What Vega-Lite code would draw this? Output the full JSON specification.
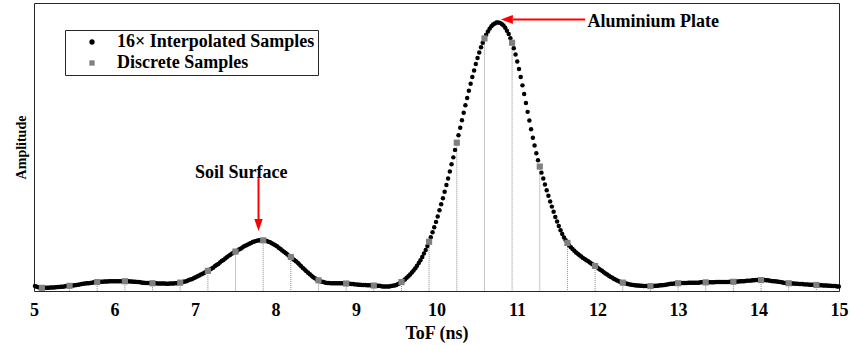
{
  "$schema": "https://vega.github.io/schema/vega-lite/v6.json",
  "width": 805,
  "height": 288,
  "autosize": {"type": "none"},
  "padding": {"left": 34, "top": 3, "right": 12, "bottom": 54},
  "datasets": {
    "interp": [
      {"t":5.012,"a":0.017},{"t":5.034,"a":0.015},{"t":5.055,"a":0.013},{"t":5.077,"a":0.012},
      {"t":5.098,"a":0.011},{"t":5.119,"a":0.011},{"t":5.141,"a":0.011},{"t":5.162,"a":0.011},{"t":5.184,"a":0.011},{"t":5.205,"a":0.012},{"t":5.227,"a":0.012},{"t":5.248,"a":0.012},{"t":5.270,"a":0.013},{"t":5.291,"a":0.014},{"t":5.313,"a":0.014},{"t":5.334,"a":0.015},{"t":5.356,"a":0.015},{"t":5.377,"a":0.016},{"t":5.399,"a":0.017},{"t":5.420,"a":0.017},
      {"t":5.442,"a":0.018},{"t":5.463,"a":0.019},{"t":5.485,"a":0.019},{"t":5.506,"a":0.020},{"t":5.528,"a":0.021},{"t":5.549,"a":0.022},{"t":5.571,"a":0.023},{"t":5.592,"a":0.024},{"t":5.614,"a":0.025},{"t":5.635,"a":0.026},{"t":5.657,"a":0.027},{"t":5.678,"a":0.027},{"t":5.700,"a":0.028},{"t":5.721,"a":0.029},{"t":5.743,"a":0.030},{"t":5.764,"a":0.030},
      {"t":5.785,"a":0.031},{"t":5.806,"a":0.031},{"t":5.828,"a":0.032},{"t":5.849,"a":0.032},{"t":5.871,"a":0.033},{"t":5.892,"a":0.033},{"t":5.914,"a":0.033},{"t":5.935,"a":0.034},{"t":5.957,"a":0.034},{"t":5.978,"a":0.034},{"t":6.000,"a":0.034},{"t":6.021,"a":0.034},{"t":6.043,"a":0.034},{"t":6.064,"a":0.034},{"t":6.086,"a":0.034},{"t":6.107,"a":0.034},
      {"t":6.129,"a":0.034},{"t":6.150,"a":0.034},{"t":6.172,"a":0.034},{"t":6.193,"a":0.033},{"t":6.215,"a":0.033},{"t":6.236,"a":0.032},{"t":6.258,"a":0.032},{"t":6.279,"a":0.031},{"t":6.301,"a":0.031},{"t":6.322,"a":0.030},{"t":6.344,"a":0.029},{"t":6.365,"a":0.029},{"t":6.387,"a":0.028},{"t":6.408,"a":0.028},{"t":6.430,"a":0.028},{"t":6.451,"a":0.027},
      {"t":6.472,"a":0.027},{"t":6.493,"a":0.027},{"t":6.515,"a":0.027},{"t":6.536,"a":0.026},{"t":6.558,"a":0.026},{"t":6.579,"a":0.026},{"t":6.601,"a":0.026},{"t":6.622,"a":0.026},{"t":6.644,"a":0.025},{"t":6.665,"a":0.025},{"t":6.687,"a":0.026},{"t":6.708,"a":0.026},{"t":6.730,"a":0.026},{"t":6.751,"a":0.027},{"t":6.773,"a":0.027},{"t":6.794,"a":0.028},
      {"t":6.816,"a":0.029},{"t":6.837,"a":0.030},{"t":6.859,"a":0.032},{"t":6.880,"a":0.033},{"t":6.902,"a":0.035},{"t":6.923,"a":0.038},{"t":6.945,"a":0.040},{"t":6.966,"a":0.042},{"t":6.988,"a":0.045},{"t":7.009,"a":0.048},{"t":7.031,"a":0.051},{"t":7.052,"a":0.054},{"t":7.074,"a":0.057},{"t":7.095,"a":0.060},{"t":7.117,"a":0.063},{"t":7.138,"a":0.067},
      {"t":7.160,"a":0.070},{"t":7.181,"a":0.074},{"t":7.203,"a":0.077},{"t":7.224,"a":0.081},{"t":7.246,"a":0.086},{"t":7.267,"a":0.090},{"t":7.289,"a":0.094},{"t":7.310,"a":0.099},{"t":7.332,"a":0.104},{"t":7.353,"a":0.108},{"t":7.375,"a":0.113},{"t":7.396,"a":0.117},{"t":7.418,"a":0.122},{"t":7.439,"a":0.126},{"t":7.461,"a":0.130},{"t":7.482,"a":0.134},
      {"t":7.503,"a":0.137},{"t":7.524,"a":0.140},{"t":7.546,"a":0.144},{"t":7.567,"a":0.147},{"t":7.589,"a":0.151},{"t":7.610,"a":0.155},{"t":7.632,"a":0.158},{"t":7.653,"a":0.161},{"t":7.675,"a":0.164},{"t":7.696,"a":0.167},{"t":7.718,"a":0.170},{"t":7.739,"a":0.172},{"t":7.761,"a":0.174},{"t":7.782,"a":0.175},{"t":7.804,"a":0.176},{"t":7.825,"a":0.176},
      {"t":7.847,"a":0.176},{"t":7.868,"a":0.175},{"t":7.890,"a":0.174},{"t":7.911,"a":0.171},{"t":7.933,"a":0.169},{"t":7.954,"a":0.166},{"t":7.976,"a":0.162},{"t":7.997,"a":0.159},{"t":8.019,"a":0.155},{"t":8.040,"a":0.150},{"t":8.062,"a":0.146},{"t":8.083,"a":0.141},{"t":8.105,"a":0.136},{"t":8.126,"a":0.132},{"t":8.148,"a":0.127},{"t":8.169,"a":0.122},
      {"t":8.190,"a":0.118},{"t":8.211,"a":0.113},{"t":8.233,"a":0.108},{"t":8.254,"a":0.103},{"t":8.276,"a":0.098},{"t":8.297,"a":0.092},{"t":8.319,"a":0.086},{"t":8.340,"a":0.080},{"t":8.362,"a":0.075},{"t":8.383,"a":0.069},{"t":8.405,"a":0.063},{"t":8.426,"a":0.058},{"t":8.448,"a":0.053},{"t":8.469,"a":0.048},{"t":8.491,"a":0.044},{"t":8.512,"a":0.040},
      {"t":8.534,"a":0.037},{"t":8.555,"a":0.034},{"t":8.577,"a":0.032},{"t":8.598,"a":0.031},{"t":8.620,"a":0.029},{"t":8.641,"a":0.028},{"t":8.663,"a":0.028},{"t":8.684,"a":0.027},{"t":8.706,"a":0.027},{"t":8.727,"a":0.027},{"t":8.749,"a":0.027},{"t":8.770,"a":0.027},{"t":8.792,"a":0.027},{"t":8.813,"a":0.027},{"t":8.835,"a":0.027},{"t":8.856,"a":0.026},
      {"t":8.878,"a":0.026},{"t":8.899,"a":0.025},{"t":8.921,"a":0.025},{"t":8.942,"a":0.024},{"t":8.964,"a":0.024},{"t":8.985,"a":0.023},{"t":9.007,"a":0.023},{"t":9.028,"a":0.022},{"t":9.050,"a":0.022},{"t":9.071,"a":0.021},{"t":9.093,"a":0.021},{"t":9.114,"a":0.021},{"t":9.136,"a":0.020},{"t":9.157,"a":0.020},{"t":9.179,"a":0.020},{"t":9.200,"a":0.019},
      {"t":9.221,"a":0.019},{"t":9.242,"a":0.019},{"t":9.264,"a":0.018},{"t":9.285,"a":0.018},{"t":9.307,"a":0.017},{"t":9.328,"a":0.016},{"t":9.350,"a":0.016},{"t":9.371,"a":0.016},{"t":9.393,"a":0.016},{"t":9.414,"a":0.016},{"t":9.436,"a":0.017},{"t":9.457,"a":0.018},{"t":9.479,"a":0.019},{"t":9.500,"a":0.021},{"t":9.522,"a":0.024},{"t":9.543,"a":0.027},
      {"t":9.565,"a":0.031},{"t":9.586,"a":0.036},{"t":9.608,"a":0.040},{"t":9.629,"a":0.046},{"t":9.651,"a":0.051},{"t":9.672,"a":0.057},{"t":9.694,"a":0.064},{"t":9.715,"a":0.071},{"t":9.737,"a":0.079},{"t":9.758,"a":0.088},{"t":9.780,"a":0.097},{"t":9.801,"a":0.107},{"t":9.823,"a":0.118},{"t":9.844,"a":0.130},{"t":9.866,"a":0.142},{"t":9.887,"a":0.156},
      {"t":9.908,"a":0.171},{"t":9.929,"a":0.187},{"t":9.951,"a":0.204},{"t":9.972,"a":0.221},{"t":9.994,"a":0.240},{"t":10.015,"a":0.259},{"t":10.037,"a":0.280},{"t":10.058,"a":0.301},{"t":10.080,"a":0.322},{"t":10.101,"a":0.345},{"t":10.123,"a":0.368},{"t":10.144,"a":0.391},{"t":10.166,"a":0.415},{"t":10.187,"a":0.440},{"t":10.209,"a":0.464},{"t":10.230,"a":0.490},
      {"t":10.252,"a":0.515},{"t":10.273,"a":0.541},{"t":10.295,"a":0.567},{"t":10.316,"a":0.593},{"t":10.338,"a":0.619},{"t":10.359,"a":0.645},{"t":10.381,"a":0.670},{"t":10.402,"a":0.695},{"t":10.424,"a":0.720},{"t":10.445,"a":0.743},{"t":10.467,"a":0.766},{"t":10.488,"a":0.788},{"t":10.510,"a":0.809},{"t":10.531,"a":0.828},{"t":10.553,"a":0.846},{"t":10.574,"a":0.862},
      {"t":10.596,"a":0.877},{"t":10.617,"a":0.890},{"t":10.639,"a":0.901},{"t":10.660,"a":0.911},{"t":10.682,"a":0.919},{"t":10.703,"a":0.925},{"t":10.725,"a":0.929},{"t":10.746,"a":0.932},{"t":10.768,"a":0.932},{"t":10.789,"a":0.931},{"t":10.811,"a":0.927},{"t":10.832,"a":0.922},{"t":10.854,"a":0.914},{"t":10.875,"a":0.904},{"t":10.897,"a":0.892},{"t":10.918,"a":0.878},
      {"t":10.939,"a":0.862},{"t":10.960,"a":0.843},{"t":10.982,"a":0.821},{"t":11.003,"a":0.797},{"t":11.025,"a":0.771},{"t":11.046,"a":0.743},{"t":11.068,"a":0.714},{"t":11.089,"a":0.684},{"t":11.111,"a":0.653},{"t":11.132,"a":0.622},{"t":11.154,"a":0.592},{"t":11.175,"a":0.562},{"t":11.197,"a":0.532},{"t":11.218,"a":0.505},{"t":11.240,"a":0.478},{"t":11.261,"a":0.454},
      {"t":11.283,"a":0.432},{"t":11.304,"a":0.411},{"t":11.326,"a":0.391},{"t":11.347,"a":0.370},{"t":11.369,"a":0.350},{"t":11.390,"a":0.331},{"t":11.412,"a":0.311},{"t":11.433,"a":0.293},{"t":11.455,"a":0.275},{"t":11.476,"a":0.257},{"t":11.498,"a":0.241},{"t":11.519,"a":0.226},{"t":11.541,"a":0.211},{"t":11.562,"a":0.198},{"t":11.584,"a":0.186},{"t":11.605,"a":0.176},
      {"t":11.626,"a":0.167},{"t":11.647,"a":0.159},{"t":11.669,"a":0.152},{"t":11.690,"a":0.146},{"t":11.712,"a":0.140},{"t":11.733,"a":0.134},{"t":11.755,"a":0.129},{"t":11.776,"a":0.124},{"t":11.798,"a":0.120},{"t":11.819,"a":0.115},{"t":11.841,"a":0.111},{"t":11.862,"a":0.107},{"t":11.884,"a":0.103},{"t":11.905,"a":0.099},{"t":11.927,"a":0.095},{"t":11.948,"a":0.091},
      {"t":11.970,"a":0.087},{"t":11.991,"a":0.083},{"t":12.013,"a":0.078},{"t":12.034,"a":0.074},{"t":12.056,"a":0.070},{"t":12.077,"a":0.065},{"t":12.099,"a":0.061},{"t":12.120,"a":0.057},{"t":12.142,"a":0.053},{"t":12.163,"a":0.049},{"t":12.185,"a":0.046},{"t":12.206,"a":0.042},{"t":12.228,"a":0.039},{"t":12.249,"a":0.036},{"t":12.271,"a":0.033},{"t":12.292,"a":0.031},
      {"t":12.314,"a":0.029},{"t":12.335,"a":0.027},{"t":12.357,"a":0.026},{"t":12.378,"a":0.024},{"t":12.400,"a":0.023},{"t":12.421,"a":0.022},{"t":12.443,"a":0.021},{"t":12.464,"a":0.020},{"t":12.486,"a":0.019},{"t":12.507,"a":0.019},{"t":12.529,"a":0.018},{"t":12.550,"a":0.018},{"t":12.572,"a":0.017},{"t":12.593,"a":0.017},{"t":12.615,"a":0.017},{"t":12.636,"a":0.017},
      {"t":12.657,"a":0.017},{"t":12.678,"a":0.017},{"t":12.700,"a":0.017},{"t":12.721,"a":0.018},{"t":12.743,"a":0.018},{"t":12.764,"a":0.019},{"t":12.786,"a":0.020},{"t":12.807,"a":0.020},{"t":12.829,"a":0.021},{"t":12.850,"a":0.022},{"t":12.872,"a":0.023},{"t":12.893,"a":0.024},{"t":12.915,"a":0.025},{"t":12.936,"a":0.025},{"t":12.958,"a":0.026},{"t":12.979,"a":0.027},
      {"t":13.001,"a":0.027},{"t":13.022,"a":0.027},{"t":13.044,"a":0.028},{"t":13.065,"a":0.028},{"t":13.087,"a":0.028},{"t":13.108,"a":0.028},{"t":13.130,"a":0.029},{"t":13.151,"a":0.029},{"t":13.173,"a":0.029},{"t":13.194,"a":0.029},{"t":13.216,"a":0.029},{"t":13.237,"a":0.029},{"t":13.259,"a":0.029},{"t":13.280,"a":0.030},{"t":13.302,"a":0.030},{"t":13.323,"a":0.030},
      {"t":13.344,"a":0.030},{"t":13.365,"a":0.030},{"t":13.387,"a":0.030},{"t":13.408,"a":0.030},{"t":13.430,"a":0.030},{"t":13.451,"a":0.030},{"t":13.473,"a":0.031},{"t":13.494,"a":0.031},{"t":13.516,"a":0.031},{"t":13.537,"a":0.031},{"t":13.559,"a":0.031},{"t":13.580,"a":0.031},{"t":13.602,"a":0.031},{"t":13.623,"a":0.031},{"t":13.645,"a":0.032},{"t":13.666,"a":0.032},
      {"t":13.688,"a":0.032},{"t":13.709,"a":0.032},{"t":13.731,"a":0.033},{"t":13.752,"a":0.033},{"t":13.774,"a":0.034},{"t":13.795,"a":0.034},{"t":13.817,"a":0.034},{"t":13.838,"a":0.035},{"t":13.860,"a":0.036},{"t":13.881,"a":0.036},{"t":13.903,"a":0.036},{"t":13.924,"a":0.037},{"t":13.946,"a":0.037},{"t":13.967,"a":0.038},{"t":13.989,"a":0.038},{"t":14.010,"a":0.038},
      {"t":14.032,"a":0.038},{"t":14.053,"a":0.038},{"t":14.075,"a":0.038},{"t":14.096,"a":0.037},{"t":14.118,"a":0.037},{"t":14.139,"a":0.036},{"t":14.161,"a":0.035},{"t":14.182,"a":0.034},{"t":14.204,"a":0.034},{"t":14.225,"a":0.033},{"t":14.247,"a":0.032},{"t":14.268,"a":0.031},{"t":14.290,"a":0.030},{"t":14.311,"a":0.029},{"t":14.333,"a":0.028},{"t":14.354,"a":0.028},
      {"t":14.375,"a":0.027},{"t":14.396,"a":0.026},{"t":14.418,"a":0.026},{"t":14.439,"a":0.026},{"t":14.461,"a":0.025},{"t":14.482,"a":0.025},{"t":14.504,"a":0.024},{"t":14.525,"a":0.024},{"t":14.547,"a":0.024},{"t":14.568,"a":0.023},{"t":14.590,"a":0.023},{"t":14.611,"a":0.023},{"t":14.633,"a":0.022},{"t":14.654,"a":0.022},{"t":14.676,"a":0.022},{"t":14.697,"a":0.021},
      {"t":14.719,"a":0.021},{"t":14.740,"a":0.021},{"t":14.762,"a":0.020},{"t":14.783,"a":0.020},{"t":14.805,"a":0.019},{"t":14.826,"a":0.019},{"t":14.848,"a":0.019},{"t":14.869,"a":0.018},{"t":14.891,"a":0.018},{"t":14.912,"a":0.017},{"t":14.934,"a":0.017},{"t":14.955,"a":0.017},{"t":14.977,"a":0.016},{"t":14.998,"a":0.016}
    ],
    "disc": [
      {"t":5.098,"a":0.011},{"t":5.442,"a":0.018},{"t":5.785,"a":0.031},{"t":6.129,"a":0.034},{"t":6.472,"a":0.027},{"t":6.816,"a":0.029},{"t":7.160,"a":0.070},{"t":7.503,"a":0.137},{"t":7.847,"a":0.176},{"t":8.190,"a":0.118},{"t":8.534,"a":0.037},{"t":8.878,"a":0.026},{"t":9.221,"a":0.019},{"t":9.565,"a":0.031},{"t":9.908,"a":0.171},{"t":10.252,"a":0.515},{"t":10.596,"a":0.877},{"t":10.939,"a":0.862},{"t":11.283,"a":0.432},{"t":11.626,"a":0.167},{"t":11.970,"a":0.087},{"t":12.314,"a":0.029},{"t":12.657,"a":0.017},{"t":13.001,"a":0.027},{"t":13.344,"a":0.030},{"t":13.688,"a":0.032},{"t":14.032,"a":0.038},{"t":14.375,"a":0.027},{"t":14.719,"a":0.021}
    ],
    "ticks": [
      {"t":5},{"t":6},{"t":7},{"t":8},{"t":9},{"t":10},{"t":11},{"t":12},{"t":13},{"t":14},{"t":15}
    ]
  },
  "encoding": {
    "x": {"field": "t", "type": "quantitative", "scale": {"domain": [5, 15], "nice": false, "zero": false}, "axis": null},
    "y": {"field": "a", "type": "quantitative", "scale": {"domain": [0, 1], "nice": false},
          "axis": {"orient": "left", "title": "Amplitude", "labels": false, "ticks": false, "domain": false, "titlePadding": 6, "titleFontSize": 14}}
  },
  "layer": [
    {
      "data": {"name": "ticks"},
      "mark": {"type": "rule", "color": "#262626", "strokeWidth": 1},
      "encoding": {
        "y": {"datum": 0},
        "y2": {"datum": 0.024}
      }
    },
    {
      "data": {"name": "ticks"},
      "mark": {"type": "rule", "color": "#262626", "strokeWidth": 1},
      "encoding": {
        "y": {"datum": 1},
        "y2": {"datum": 0.976}
      }
    },
    {
      "data": {"name": "disc"},
      "mark": {"type": "rule", "color": "#8a8a8a", "strokeWidth": 1, "strokeDash": [1, 1]},
      "encoding": {
        "y2": {"datum": 0}
      }
    },
    {
      "data": {"name": "interp"},
      "mark": {"type": "point", "filled": true, "size": 20, "opacity": 1, "strokeWidth": 0},
      "encoding": {
        "x": {"field": "t", "type": "quantitative",
              "axis": {"orient": "bottom", "values": [5,6,7,8,9,10,11,12,13,14,15], "ticks": false, "domain": false, "labelPadding": 10, "labelFlush": false, "title": "ToF (ns)", "titlePadding": 5}},
        "color": {"datum": "16× Interpolated Samples", "type": "nominal",
                  "scale": {"domain": ["16× Interpolated Samples", "\u00a0Discrete Samples"], "range": ["#000000", "#808080"]},
                  "legend": {"title": null}},
        "shape": {"datum": "16× Interpolated Samples", "type": "nominal",
                  "scale": {"domain": ["16× Interpolated Samples", "\u00a0Discrete Samples"], "range": ["circle", "square"]},
                  "legend": {"title": null}}
      }
    },
    {
      "data": {"name": "disc"},
      "mark": {"type": "point", "filled": true, "size": 38, "opacity": 1, "strokeWidth": 0},
      "encoding": {
        "color": {"datum": "\u00a0Discrete Samples", "type": "nominal", "legend": {"title": null}},
        "shape": {"datum": "\u00a0Discrete Samples", "type": "nominal", "legend": {"title": null}}
      }
    },
    {
      "data": {"values": [{"t": 10.95, "t2": 11.847, "a": 0.943, "a2": 0.943}, {"t": 7.789, "t2": 7.789, "a": 0.392, "a2": 0.24}]},
      "mark": {"type": "rule", "color": "#ff0000", "strokeWidth": 2},
      "encoding": {
        "x2": {"field": "t2"},
        "y2": {"field": "a2"}
      }
    },
    {
      "data": {"values": [{"t": 10.874, "a": 0.943}]},
      "mark": {"type": "point", "filled": true, "opacity": 1, "color": "#ff0000", "size": 144, "shape": "M-1,0L1,-0.75L1,0.75Z", "strokeWidth": 0}
    },
    {
      "data": {"values": [{"t": 7.789, "a": 0.229}]},
      "mark": {"type": "point", "filled": true, "opacity": 1, "color": "#ff0000", "size": 144, "shape": "M0,1L-0.7,-1L0.7,-1Z", "strokeWidth": 0}
    },
    {
      "data": {"values": [{"t": 11.876, "a": 0.935, "label": "Aluminium Plate"}]},
      "mark": {"type": "text", "align": "left", "baseline": "middle", "font": "Liberation Serif", "fontWeight": "bold", "fontSize": 18, "color": "#000000"},
      "encoding": {"text": {"field": "label"}}
    },
    {
      "data": {"values": [{"t": 7.574, "a": 0.411, "label": "Soil Surface"}]},
      "mark": {"type": "text", "align": "center", "baseline": "middle", "font": "Liberation Serif", "fontWeight": "bold", "fontSize": 18, "color": "#000000"},
      "encoding": {"text": {"field": "label"}}
    }
  ],
  "resolve": {"axis": {"x": "independent"}},
  "config": {
    "font": "Liberation Serif",
    "view": {"stroke": "#262626", "strokeWidth": 1},
    "axis": {
      "grid": false,
      "domainColor": "#262626",
      "tickColor": "#262626",
      "labelFont": "Liberation Serif",
      "labelFontWeight": "bold",
      "labelFontSize": 18,
      "labelColor": "#000000",
      "titleFont": "Liberation Serif",
      "titleFontWeight": "bold",
      "titleFontSize": 18,
      "titleColor": "#000000"
    },
    "legend": {
      "orient": "none",
      "legendX": 31,
      "legendY": 27,
      "labelFont": "Liberation Serif",
      "labelFontWeight": "bold",
      "labelFontSize": 18,
      "labelColor": "#000000",
      "labelLimit": 400,
      "symbolSize": 28,
      "symbolStrokeWidth": 0,
      "strokeColor": "#262626",
      "fillColor": "#ffffff",
      "padding": 3,
      "rowPadding": 3,
      "labelOffset": 16,
      "symbolOffset": 15
    }
  }
}
